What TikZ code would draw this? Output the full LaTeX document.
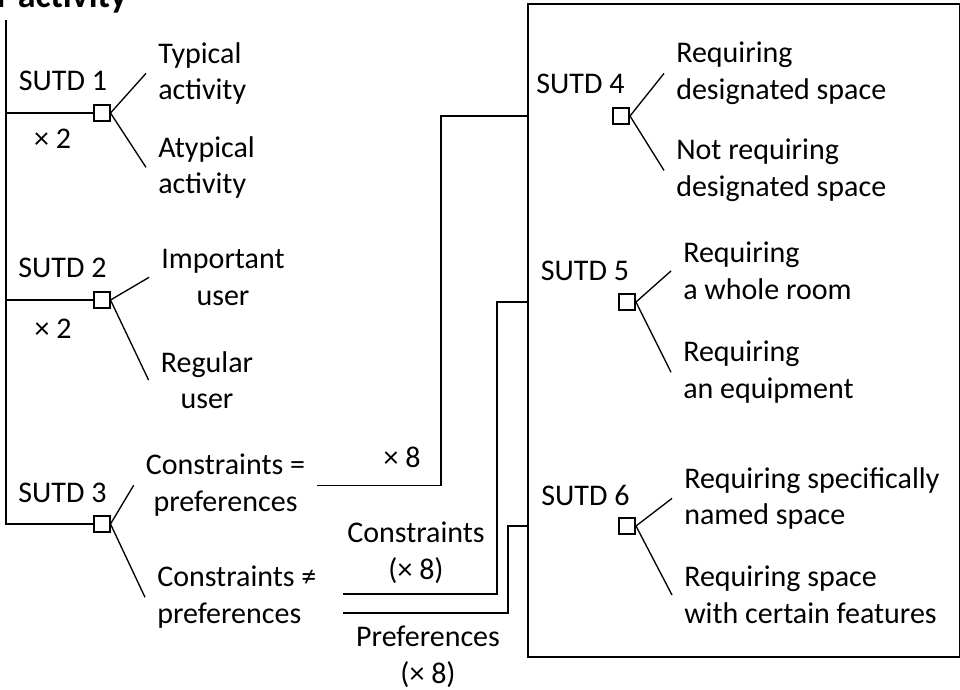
\documentclass[tikz,border=0pt]{standalone}
\usepackage{fontspec}
\setmainfont{Carlito}
\usetikzlibrary{positioning}

\tikzset{
  sel/.style={draw, line width=1.5pt, minimum size=12pt, inner sep=0pt},
  sutd/.style={anchor=base, inner sep=0pt},
  optl/.style={anchor=north west, align=left, inner sep=0pt},
  optc/.style={anchor=north, align=center, inner sep=0pt},
  link/.style={line width=1pt},
}

\begin{document}
\begin{tikzpicture}[x=0.75pt, y=-0.75pt, font=\fontsize{22.5}{27.4}\selectfont]
\clip (0,0) rectangle (960,689);
% title, only partly shown
\node[anchor=base west, inner sep=0pt, font=\fontsize{27}{32}\selectfont\bfseries] (title) at (-40,7) {Per activity};

% selectors
\node[sel] (b1) at (101.5,113) {};
\node[sel] (b2) at (101.5,300) {};
\node[sel] (b3) at (101.5,524) {};
\node[sel] (b4) at (621,116) {};
\node[sel] (b5) at (627,302) {};
\node[sel] (b6) at (627,526) {};

% labels of the selectors
\node[sutd] (l1) at (63,90) {SUTD 1};
\node[sutd] (l2) at (62.5,277) {SUTD 2};
\node[sutd] (l3) at (62.5,502) {SUTD 3};
\node[sutd] (l4) at (580.5,93) {SUTD 4};
\node[sutd] (l5) at (585,280) {SUTD 5};
\node[sutd] (l6) at (585.5,505) {SUTD 6};
\node[sutd] (m1) at (52.5,148) {× 2};
\node[sutd] (m2) at (53,338) {× 2};

% options
\node[optl] (o1a) at (158,42) {Typical\\activity};
\node[optl] (o1b) at (158,136) {Atypical\\activity};
\node[optc] (o2a) at (223,249) {Important\\user};
\node[optc] (o2b) at (207,351) {Regular\\user};
\node[optc] (o3a) at (225.5,454) {Constraints =\\preferences};
\node[optl] (o3b) at (157,566) {Constraints ≠\\preferences};
\node[optl] (o4a) at (676,42) {Requiring\\designated space};
\node[optl] (o4b) at (676,139) {Not requiring\\designated space};
\node[optl] (o5a) at (683,242) {Requiring\\a whole room};
\node[optl] (o5b) at (683,341) {Requiring\\an equipment};
\node[optl] (o6a) at (684,467) {Requiring specifically\\named space};
\node[optl] (o6b) at (684,566) {Requiring space\\with certain features};

% branches
\draw[link] (b1.east) -- ([xshift=-9pt]o1a.west);
\draw[link] (b1.east) -- ([xshift=-9pt]o1b.west);
\draw[link] (b2.east) -- ([xshift=-9pt]o2a.west);
\draw[link] (b2.east) -- ([xshift=-9pt]o2b.west);
\draw[link] (b3.east) -- ([xshift=-9pt]o3a.west);
\draw[link] (b3.east) -- ([xshift=-9pt]o3b.west);
\draw[link] (b4.east) -- ([xshift=-9pt]o4a.west);
\draw[link] (b4.east) -- ([xshift=-9pt]o4b.west);
\draw[link] (b5.east) -- ([xshift=-9pt]o5a.west);
\draw[link] (b5.east) -- ([xshift=-9pt]o5b.west);
\draw[link] (b6.east) -- ([xshift=-9pt]o6a.west);
\draw[link] (b6.east) -- ([xshift=-9pt]o6b.west);

% stem on the left
\coordinate (top) at (6,20);
\draw[link] (top) |- (b3.west);
\draw[link] (top |- b1) -- (b1.west);
\draw[link] (top |- b2) -- (b2.west);

% frame round SUTD 4-6
\node[draw, line width=1.6pt, inner sep=0pt, minimum width=324pt,
  minimum height=489.75pt, anchor=north west] (frame) at (527,3) {};

% links into the frame
\coordinate (j1) at (441,116);
\coordinate (j2) at (497,302);
\coordinate (j3) at (508,526);
\coordinate (s2) at (343,594);
\coordinate (s3) at (343,613);
\draw[link] ([xshift=9pt]o3a.east) -| (j1) -- (frame.west |- j1);
\draw[link] (s2) -| (j2) -- (frame.west |- j2);
\draw[link] (s3) -| (j3) -- (frame.west |- j3);

\node[sutd] (n1) at (402,467) {× 8};
\node[optc] (n2) at (416,522) {Constraints\\(× 8)};
\node[optc] (n3) at (428,626) {Preferences\\(× 8)};
\end{tikzpicture}
\end{document}
